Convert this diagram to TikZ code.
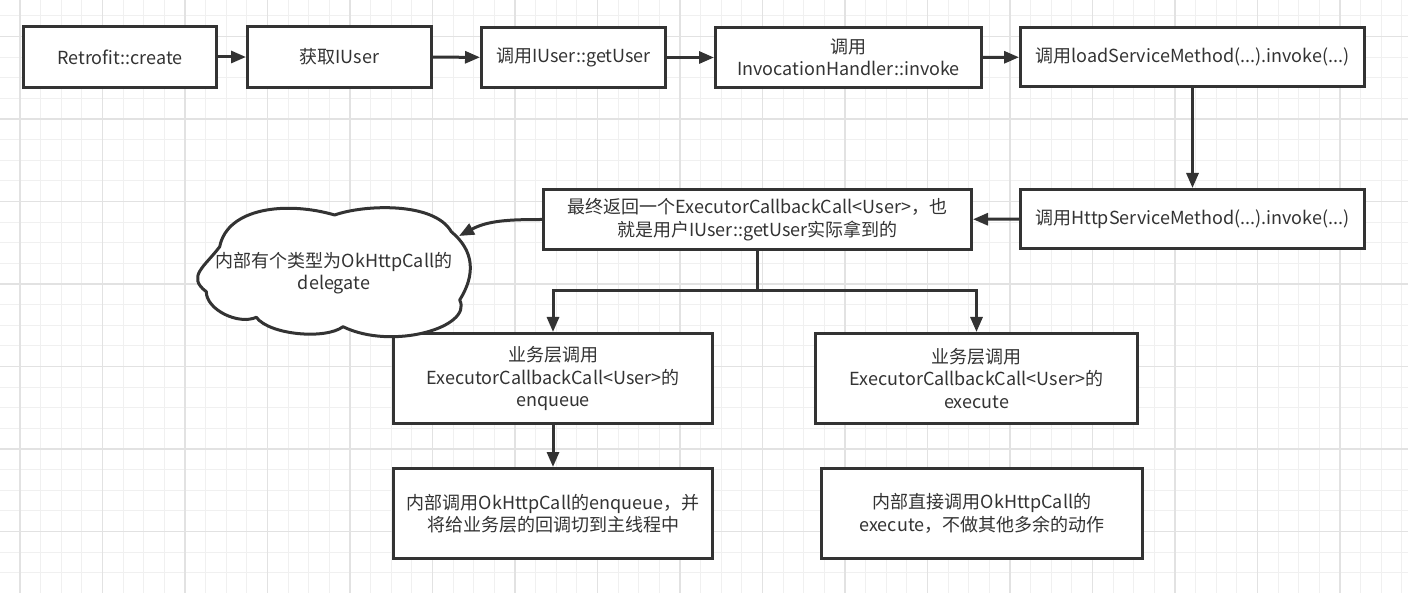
\documentclass[tikz,border=0pt]{standalone}
\usepackage{fontspec}
\setmainfont{Noto Sans CJK SC}
\usetikzlibrary{arrows.meta}
\definecolor{ink}{HTML}{333333}
\definecolor{gmin}{HTML}{F0F0F0}
\definecolor{gmaj}{HTML}{E2E2E2}
\tikzset{
  boxnode/.style={draw=ink, line width=3pt, fill=white, text=ink, align=center,
    inner sep=0pt, font=\fontsize{18pt}{22.5pt}\selectfont},
  conn/.style={draw=ink, line width=3pt},
  arr/.style={conn, -{Triangle[length=15pt,width=12pt]}},
  gridmin/.style={draw=gmin, line width=1pt},
  gridmaj/.style={draw=gmaj, line width=1.2pt},
  cloudline/.style={draw=ink, line width=3pt, fill=white, line join=round},
}
\begin{document}
\begin{tikzpicture}[x=1pt,y=-1pt]
\useasboundingbox (0,0) rectangle (1408,593);
\fill[white] (0,0) rectangle (1408,593);
% grid
\foreach \i in {0,...,69} {\draw[gridmin] ({-0.6+\i*20.625},0) -- ({-0.6+\i*20.625},593);}
\foreach \i in {0,...,29} {\draw[gridmin] (0,{-4.7+\i*20.625}) -- (1408,{-4.7+\i*20.625});}
\foreach \i in {0,...,17} {\draw[gridmaj] ({20+\i*82.5},0) -- ({20+\i*82.5},593);}
\foreach \i in {0,...,7} {\draw[gridmaj] (0,{36.5+\i*82.5}) -- (1408,{36.5+\i*82.5});}

% top row
\node[boxnode, minimum width=193pt, minimum height=61pt] (n1) at (120,57) {Retrofit::create};
\node[boxnode, minimum width=184pt, minimum height=61pt] (n2) at (339.5,57) {获取IUser};
\node[boxnode, minimum width=184pt, minimum height=60pt] (n3) at (573.5,57.5) {调用IUser::getUser};
\node[boxnode, minimum width=266pt, minimum height=60pt] (n4) at (848.5,57.5) {调用\\InvocationHandler::invoke};
\node[boxnode, minimum width=344pt, minimum height=59pt] (n5) at (1192.5,57) {调用loadServiceMethod(...).invoke(...)};
% second row
\node[boxnode, minimum width=344pt, minimum height=59pt] (n6) at (1192.5,219) {调用HttpServiceMethod(...).invoke(...)};
\node[boxnode, minimum width=428pt, minimum height=60pt] (n7) at (757.5,219.5) {最终返回一个ExecutorCallbackCall<User>，也\\就是用户IUser::getUser实际拿到的};
% third row
\node[boxnode, minimum width=319pt, minimum height=90pt] (n8) at (553,378.5) {业务层调用\\ExecutorCallbackCall<User>的\\enqueue};
\node[boxnode, minimum width=322pt, minimum height=90pt] (n9) at (976.5,378.5) {业务层调用\\ExecutorCallbackCall<User>的\\execute};
% fourth row
\node[boxnode, minimum width=319pt, minimum height=90pt] (n10) at (553,513.5) {内部调用OkHttpCall的enqueue，并\\将给业务层的回调切到主线程中};
\node[boxnode, minimum width=321pt, minimum height=90pt] (n11) at (982,513.5) {内部直接调用OkHttpCall的\\execute，不做其他多余的动作};

% cloud
\draw[cloudline] (219.7,246.7) .. controls (227.5,207.5) and (286.7,201) .. (334.7,215)
  .. controls (362.9,204.8) and (433.8,201.2) .. (451.3,231.7)
  .. controls (474.4,250.9) and (475.6,274.5) .. (459.7,300)
  .. controls (473.2,327) and (392.5,350.9) .. (343,326.7)
  .. controls (325.4,339.9) and (269.5,334.9) .. (256.3,317.3)
  .. controls (238.3,325.3) and (206.3,309.7) .. (206.3,291.7)
  .. controls (186.3,276.7) and (204.7,266.7) .. (219.7,246.7) -- cycle;
\node[text=ink, align=center, inner sep=0pt, font=\fontsize{18pt}{22.5pt}\selectfont] (cloud) at (334,273) {内部有个类型为OkHttpCall的\\delegate};
\coordinate (cl) at (459,236);

% connectors
\draw[arr] (n1) -- (n2);
\draw[arr] (n2) -- (n3);
\draw[arr] (n3) -- (n4);
\draw[arr] (n4) -- (n5);
\draw[arr] (n5) -- (n6);
\draw[arr] (n6) -- (n7);
\draw[arr] (n7.west) to[out=180, in=28] (cl);
\coordinate (j) at (n7.south |- 0,291);
\draw[conn] (n7.south) -- (j);
\draw[arr] (j) -| (n8.north);
\draw[arr] (j) -| (n9.north);
\draw[arr] (n8) -- (n10);
\end{tikzpicture}
\end{document}
